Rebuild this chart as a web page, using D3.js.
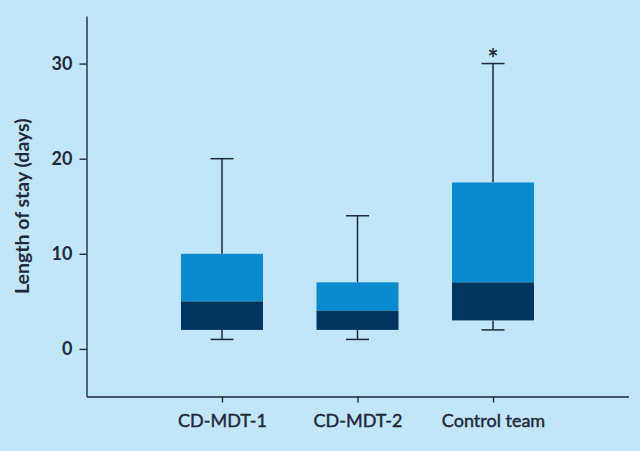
<!DOCTYPE html>
<html><head><meta charset="utf-8">
<script src="https://cdn.jsdelivr.net/npm/d3@7"></script>
<style>html,body{margin:0;padding:0;background:#c2e6f9;}svg{display:block;}</style>
</head><body>
<script>
const categories = ["CD-MDT-1", "CD-MDT-2", "Control team"];
const whiskerLow = [1, 1, 2];
const q1 = [2, 2, 3];
const median = [5, 4, 7];
const q3 = [10, 7, 17.5];
const whiskerHigh = [20, 14, 30];
const significance = ["", "", "*"];
const yTicks = [0, 10, 20, 30];
const yLabel = "Length of stay (days)";

const W = 640, H = 451;
const m = {left: 86.5, right: 11.5, top: 16, bottom: 54.5};
const svg = d3.select("body").append("svg").attr("width", W).attr("height", H);
svg.append("rect").attr("width", W).attr("height", H).attr("fill", "#c2e6f9");

const x = d3.scalePoint().domain(categories).range([m.left, W - m.right]).padding(1);
const y = d3.scaleLinear().domain([-5, 35]).range([H - m.bottom, m.top]);
const ink = "#1c2a3a";
const font = "Lato, 'Open Sans', sans-serif";
const boxW = 82, capW = 23;

const data = categories.map((c, i) => ({c, lo: whiskerLow[i], q1: q1[i], med: median[i], q3: q3[i], hi: whiskerHigh[i], sig: significance[i]}));

const g = svg.append("g").selectAll("g").data(data).join("g");
g.append("line").attr("x1", d => x(d.c)).attr("x2", d => x(d.c)).attr("y1", d => y(d.q3)).attr("y2", d => y(d.hi)).attr("stroke", ink).attr("stroke-width", 1.5);
g.append("line").attr("x1", d => x(d.c)).attr("x2", d => x(d.c)).attr("y1", d => y(d.q1)).attr("y2", d => y(d.lo)).attr("stroke", ink).attr("stroke-width", 1.5);
g.append("line").attr("x1", d => x(d.c) - capW/2).attr("x2", d => x(d.c) + capW/2).attr("y1", d => y(d.hi)).attr("y2", d => y(d.hi)).attr("stroke", ink).attr("stroke-width", 1.5);
g.append("line").attr("x1", d => x(d.c) - capW/2).attr("x2", d => x(d.c) + capW/2).attr("y1", d => y(d.lo)).attr("y2", d => y(d.lo)).attr("stroke", ink).attr("stroke-width", 1.5);
g.append("rect").attr("x", d => x(d.c) - boxW/2).attr("width", boxW).attr("y", d => y(d.q3)).attr("height", d => y(d.med) - y(d.q3)).attr("fill", "#0a8bd0");
g.append("rect").attr("x", d => x(d.c) - boxW/2).attr("width", boxW).attr("y", d => y(d.med)).attr("height", d => y(d.q1) - y(d.med)).attr("fill", "#00365f");
g.append("text").attr("x", d => x(d.c)).attr("y", d => y(d.hi) + 4).attr("text-anchor", "middle")
  .attr("font-family", font).attr("font-weight", 700).attr("font-size", 26).attr("fill", ink).text(d => d.sig);

const yAxis = svg.append("g").attr("transform", `translate(${m.left},0)`)
  .call(d3.axisLeft(y).tickValues(yTicks).tickSize(7).tickPadding(7).tickSizeOuter(0));
const xAxis = svg.append("g").attr("transform", `translate(0,${H - m.bottom})`)
  .call(d3.axisBottom(x).tickSize(6).tickPadding(12).tickSizeOuter(0));
[yAxis, xAxis].forEach(a => {
  a.select(".domain").attr("stroke", ink).attr("stroke-width", 1.4);
  a.selectAll(".tick line").attr("stroke", ink).attr("stroke-width", 1.4);
  a.selectAll(".tick text").attr("fill", ink).attr("font-family", font);
});
yAxis.selectAll(".tick text").attr("font-size", 18).attr("font-weight", 700);
xAxis.selectAll(".tick text").attr("font-size", 18).attr("font-weight", 400)
  .attr("stroke", ink).attr("stroke-width", 0.45);

svg.append("text").attr("transform", `translate(29,${(m.top + H - m.bottom)/2}) rotate(-90)`)
  .attr("text-anchor", "middle").attr("font-family", font).attr("font-weight", 700)
  .attr("font-size", 19.5).attr("fill", ink).text(yLabel);
</script>
</body></html>
